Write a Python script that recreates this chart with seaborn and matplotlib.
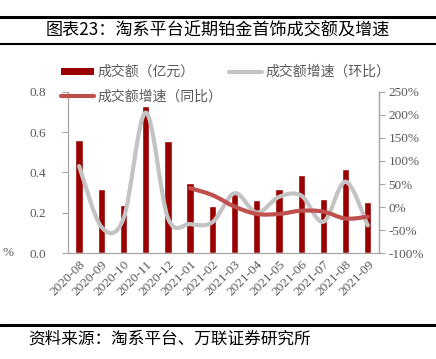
import matplotlib
matplotlib.use("Agg")
import matplotlib.pyplot as plt
import seaborn as sns
import numpy as np
import pandas as pd
from matplotlib.path import Path
from matplotlib.patches import PathPatch
from matplotlib.lines import Line2D
from matplotlib.patches import Patch

# Data
months = ["2020-08", "2020-09", "2020-10", "2020-11", "2020-12", "2021-01", "2021-02",
          "2021-03", "2021-04", "2021-05", "2021-06", "2021-07", "2021-08", "2021-09"]
amount = [0.56, 0.32, 0.24, 0.73, 0.555, 0.35, 0.235, 0.30, 0.263, 0.318, 0.39, 0.268, 0.417, 0.252]
mom_growth = [89, -43, -25, 205, -24, -37, -33, 30, -12, 22, 25, -32, 55, -40]
yoy_months = months[5:]
yoy_growth = [41, 26, 1, -15, -15, -8, -10, -25, -21]

BAR_COLOR = "#990000"
MOM_COLOR = "#C3C3C3"
YOY_COLOR = "#C0504D"
TICK_COLOR = "#595959"
AXIS_COLOR = "#A6A6A6"

sns.set_theme(style="white")
plt.rcParams["font.family"] = ["Noto Sans CJK SC", "DejaVu Sans"]
num_font = ["Liberation Serif", "Noto Sans CJK SC"]


def smooth_path(xs, ys):
    # Excel-style smoothed line: cubic Bezier segments through the data points
    xs = np.asarray(xs, float)
    ys = np.asarray(ys, float)
    pts = np.column_stack([xs, ys])
    n = len(pts)
    verts = [pts[0]]
    codes = [Path.MOVETO]
    for i in range(n - 1):
        p0 = pts[i - 1] if i > 0 else pts[i]
        p1 = pts[i]
        p2 = pts[i + 1]
        p3 = pts[i + 2] if i + 2 < n else pts[i + 1]
        c1 = p1 + (p2 - p0) / 6.0
        c2 = p2 - (p3 - p1) / 6.0
        verts += [c1, c2, p2]
        codes += [Path.CURVE4] * 3
    return Path(verts, codes)


fig = plt.figure(figsize=(4.36, 3.59), dpi=100)
ax = fig.add_axes([0.156, 0.295, 0.713, 0.449])

df = pd.DataFrame({"month": months, "amount": amount})
sns.barplot(data=df, x="month", y="amount", color=BAR_COLOR, saturation=1,
            width=0.33, ax=ax)
ax.set_xlim(-0.5, len(months) - 0.5)
ax.set_ylim(0, 0.8)
ax.set_yticks(np.arange(0, 0.81, 0.2))
ax.set_yticklabels([f"{v:.1f}" for v in np.arange(0, 0.81, 0.2)],
                   family=num_font, fontsize=9.5, color=TICK_COLOR)
ax.set_xticks(range(len(months)))
ax.set_xticklabels(months, rotation=45, ha="right", rotation_mode="anchor",
                   family=num_font, fontsize=9.5, color=TICK_COLOR)
ax.set_xlabel("")
ax.set_ylabel("")
ax.tick_params(axis="y", which="major", direction="out", length=4, width=0.8,
               color=AXIS_COLOR, pad=12, left=True)
ax.tick_params(axis="x", length=0, pad=4)
for s in ["left", "bottom", "right"]:
    ax.spines[s].set_color(AXIS_COLOR)
    ax.spines[s].set_linewidth(0.9)
ax.spines["top"].set_visible(False)

ax2 = ax.twinx()
ax2.set_ylim(-100, 250)
ax2.set_yticks(np.arange(-100, 251, 50))
ax2.set_yticklabels([f"{v}%" for v in range(-100, 251, 50)],
                    family=num_font, fontsize=9.5, color=TICK_COLOR)
ax2.tick_params(axis="y", direction="out", length=4, width=0.8, color=AXIS_COLOR,
                pad=3, right=True)
for s in ["left", "bottom", "top"]:
    ax2.spines[s].set_visible(False)
ax2.spines["right"].set_color(AXIS_COLOR)
ax2.spines["right"].set_linewidth(0.9)
ax2.grid(False)
ax.grid(False)

x_all = np.arange(len(months))
x_yoy = np.array([months.index(m) for m in yoy_months])
ax2.add_patch(PathPatch(smooth_path(x_all, mom_growth), facecolor="none",
                        edgecolor=MOM_COLOR, lw=3, capstyle="round", zorder=3))
ax2.add_patch(PathPatch(smooth_path(x_yoy, yoy_growth), facecolor="none",
                        edgecolor=YOY_COLOR, lw=3, capstyle="round", zorder=4))

handles = [Patch(facecolor=BAR_COLOR, edgecolor="none"),
           Line2D([], [], color=YOY_COLOR, lw=3),
           Line2D([], [], color=MOM_COLOR, lw=3)]
labels = ["成交额（亿元）", "成交额增速（同比）", "成交额增速（环比）"]
leg = fig.legend(handles, labels, ncol=2, loc="upper left",
                 bbox_to_anchor=(61 / 436, 1 - 65 / 359), frameon=False,
                 fontsize=10, labelcolor=TICK_COLOR, handlelength=2.4,
                 handleheight=0.4, handletextpad=0.2, labelspacing=0.75,
                 columnspacing=0.5, borderpad=0, borderaxespad=0)

# title block and source
fig.add_artist(Line2D([0, 1], [1 - 16.5 / 359] * 2, transform=fig.transFigure,
                      color="black", lw=2.2))
fig.add_artist(Line2D([0, 1], [1 - 44 / 359] * 2, transform=fig.transFigure,
                      color="black", lw=1.5))
fig.text(0.5, 1 - 30.5 / 359, "图表23：淘系平台近期铂金首饰成交额及增速",
         ha="center", va="center", fontsize=12.3, color="black")
fig.add_artist(Line2D([0, 1], [1 - 325 / 359] * 2, transform=fig.transFigure,
                      color="black", lw=2.2))
fig.text(28 / 436, 1 - 339 / 359, "资料来源：淘系平台、万联证券研究所",
         ha="left", va="center", fontsize=12, color="black")
fig.text(2 / 436, 1 - 253 / 359, "%", ha="left", va="center",
         family=num_font, fontsize=9.5, color=TICK_COLOR)

fig.savefig("out.png", dpi=100)
